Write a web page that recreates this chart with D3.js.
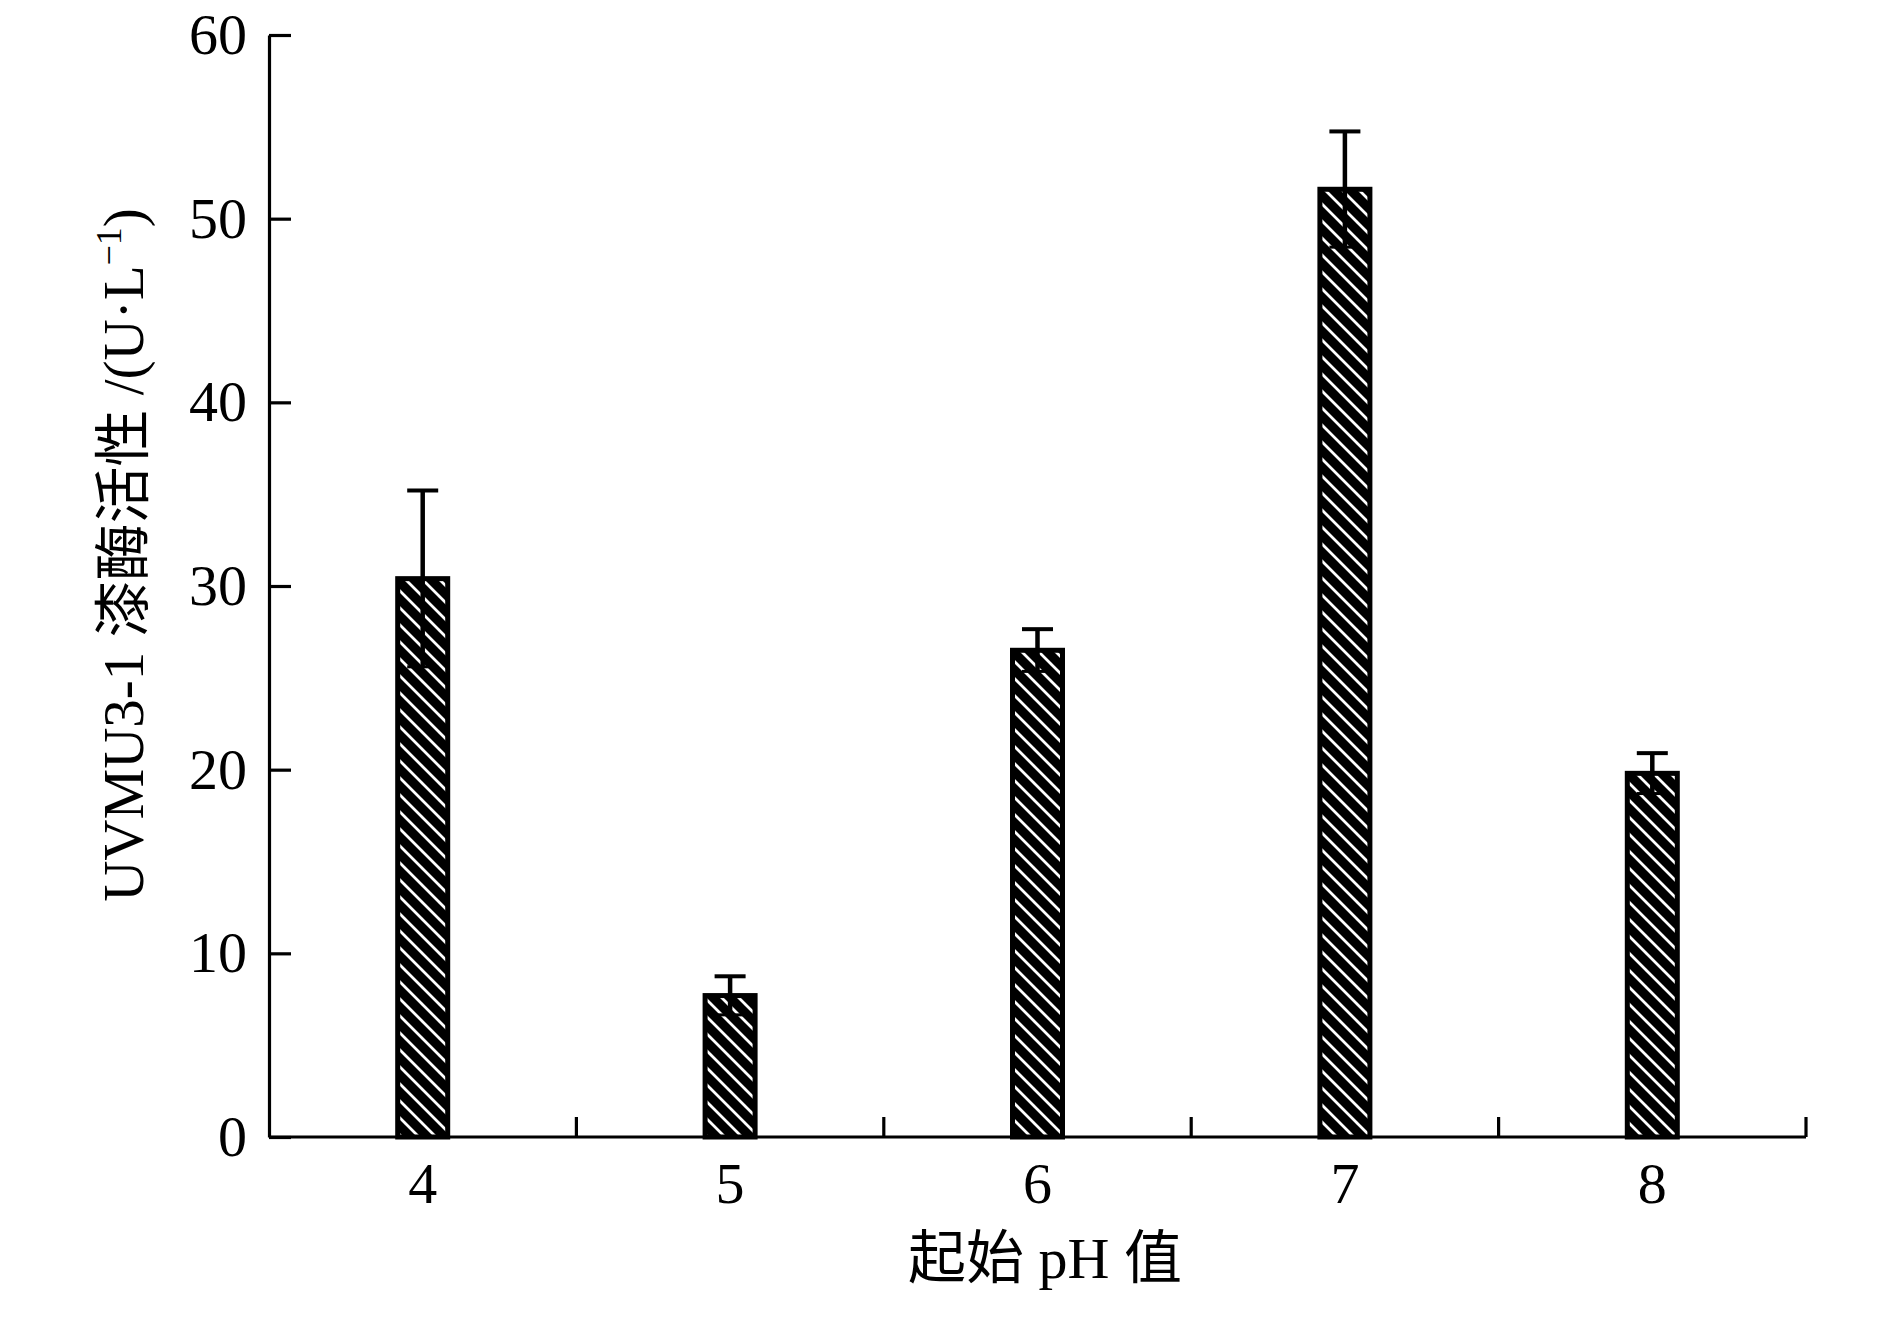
<!DOCTYPE html>
<html>
<head>
<meta charset="utf-8">
<script src="https://cdn.jsdelivr.net/npm/d3@7"></script>
<style>
  html, body { margin: 0; padding: 0; background: #fff; }
  svg { display: block; }
  text { font-family: "Liberation Serif", "Times New Roman", serif; fill: #000; }
  .cjk { font-family: "Noto Sans CJK SC", sans-serif; }
  .lat { font-family: "Liberation Serif", "Times New Roman", serif; }
</style>
</head>
<body>
<script>
// Data
const categories = ["4", "5", "6", "7", "8"];
const values = [30.4, 7.7, 26.5, 51.6, 19.8];
const errors = [4.8, 1.05, 1.15, 3.15, 1.1];
const yTicks = [0, 10, 20, 30, 40, 50, 60];
const xTitleParts = [["起始", "cjk"], [" pH ", "lat"], ["值", "cjk"]];
const yTitleParts = [["UVMU3-1 ", "lat"], ["漆酶活性", "cjk"], [" /(U·L", "lat"]];
const yTitleSup = "−1";
const yTitleEnd = ")";

const W = 1890, H = 1324;
const margin = { left: 269, top: 35, right: W - 1806, bottom: H - 1137 };
const w = W - margin.left - margin.right;
const h = H - margin.top - margin.bottom;

const svg = d3.select("body").append("svg").attr("width", W).attr("height", H);

const defs = svg.append("defs");
const pat = defs.append("pattern")
  .attr("id", "hatch").attr("patternUnits", "userSpaceOnUse")
  .attr("width", 17).attr("height", 17);
pat.append("rect").attr("width", 17).attr("height", 17).attr("fill", "#000");
pat.append("path")
  .attr("d", "M0,0 L17,17 M-5,12 L5,22 M12,-5 L22,5")
  .attr("stroke", "#fff").attr("stroke-width", 2.8);

const g = svg.append("g").attr("transform", `translate(${margin.left},${margin.top})`);

const x = d3.scaleBand().domain(categories).range([0, w]).padding(0);
const y = d3.scaleLinear().domain([0, 60]).range([h, 0]);

const barW = 50;

// Bars
g.selectAll("rect.bar").data(categories).enter().append("rect")
  .attr("class", "bar")
  .attr("x", (d) => x(d) + x.bandwidth() / 2 - barW / 2)
  .attr("y", (d, i) => y(values[i]))
  .attr("width", barW)
  .attr("height", (d, i) => y(0) - y(values[i]))
  .attr("fill", "url(#hatch)")
  .attr("stroke", "#000").attr("stroke-width", 5);

// Error bars
const capW = 31;
const eb = g.selectAll("g.err").data(categories).enter().append("g").attr("class", "err");
eb.append("line")
  .attr("x1", (d) => x(d) + x.bandwidth() / 2).attr("x2", (d) => x(d) + x.bandwidth() / 2)
  .attr("y1", (d, i) => y(values[i] + errors[i])).attr("y2", (d, i) => y(values[i] - errors[i]))
  .attr("stroke", "#000").attr("stroke-width", 4.5);
eb.append("line")
  .attr("x1", (d) => x(d) + x.bandwidth() / 2 - capW / 2).attr("x2", (d) => x(d) + x.bandwidth() / 2 + capW / 2)
  .attr("y1", (d, i) => y(values[i] + errors[i])).attr("y2", (d, i) => y(values[i] + errors[i]))
  .attr("stroke", "#000").attr("stroke-width", 4);
eb.append("line")
  .attr("x1", (d) => x(d) + x.bandwidth() / 2 - capW / 2).attr("x2", (d) => x(d) + x.bandwidth() / 2 + capW / 2)
  .attr("y1", (d, i) => y(values[i] - errors[i])).attr("y2", (d, i) => y(values[i] - errors[i]))
  .attr("stroke", "#000").attr("stroke-width", 3);

// Y axis
const yAxis = g.append("g")
  .call(d3.axisLeft(y).tickValues(yTicks).tickFormat(d3.format("d")).tickSizeInner(-22).tickSizeOuter(0).tickPadding(22));
yAxis.select(".domain").attr("stroke", "#000").attr("stroke-width", 3.2);
yAxis.selectAll(".tick line").attr("stroke", "#000").attr("stroke-width", 3.2);
yAxis.selectAll(".tick text").attr("font-size", 58).attr("font-family", "Liberation Serif, Times New Roman, serif");

// X axis
const xAxis = g.append("g").attr("transform", `translate(0,${h})`)
  .call(d3.axisBottom(x).tickSize(0).tickPadding(25));
xAxis.select(".domain").remove();
xAxis.selectAll(".tick text").attr("font-size", 58).attr("font-family", "Liberation Serif, Times New Roman, serif");
g.append("line").attr("x1", 0).attr("x2", w).attr("y1", h).attr("y2", h)
  .attr("stroke", "#000").attr("stroke-width", 3.2);
g.selectAll("line.xtick").data(categories).enter().append("line")
  .attr("class", "xtick")
  .attr("x1", (d) => x(d) + x.bandwidth()).attr("x2", (d) => x(d) + x.bandwidth())
  .attr("y1", h).attr("y2", h - 20)
  .attr("stroke", "#000").attr("stroke-width", 3.2);

// X title
const xt = svg.append("text")
  .attr("x", 1045).attr("y", 1278)
  .attr("text-anchor", "middle").attr("font-size", 58);
xTitleParts.forEach(([t, c]) => xt.append("tspan").attr("class", c).text(t));

// Y title
const yt = svg.append("text")
  .attr("transform", "translate(143,555) rotate(-90)")
  .attr("text-anchor", "middle").attr("font-size", 57);
yTitleParts.forEach(([t, c]) => yt.append("tspan").attr("class", c).text(t));
yt.append("tspan").attr("class", "lat").attr("font-size", 36).attr("dy", -22).text(yTitleSup);
yt.append("tspan").attr("class", "lat").attr("dy", 22).text(yTitleEnd);
</script>
</body>
</html>
